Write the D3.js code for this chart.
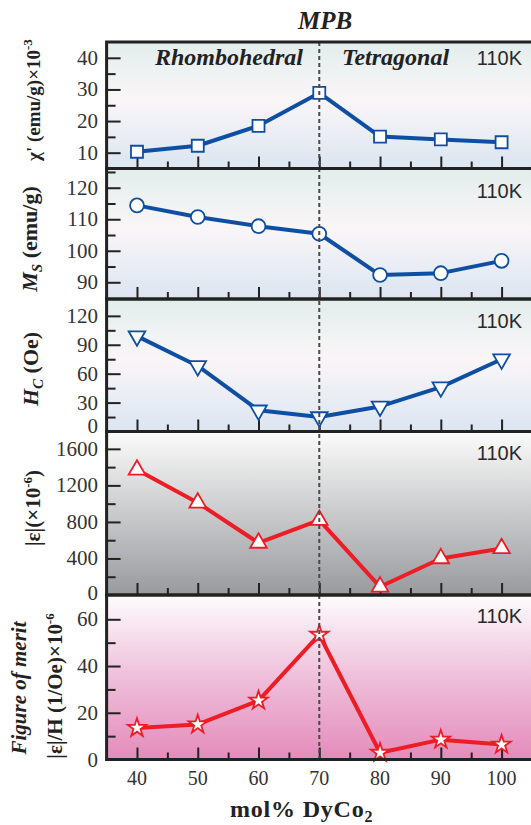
<!DOCTYPE html>
<html>
<head>
<meta charset="utf-8">
<script src="https://cdn.jsdelivr.net/npm/d3@7"></script>
<style>
  body { margin: 0; background: #fff; }
  svg { display: block; }
  text { font-family: "Liberation Serif", "Times New Roman", serif; fill: #333; }
</style>
</head>
<body>
<svg id="chart" width="531" height="825"></svg>
<script>
// composition (mol% DyCo2) and the five measured quantities at 110K
const molPct = [40, 50, 60, 70, 80, 90, 100];
const chiVals = [10.3, 12.2, 18.5, 28.9, 15.1, 14.2, 13.3];
const msVals = [114.4, 110.7, 107.8, 105.4, 92.3, 92.9, 96.8];
const hcVals = [99, 68, 22, 15, 26, 46, 75];
const strainVals = [1370, 1010, 570, 820, 90, 400, 510];
const fomVals = [13.5, 15, 25.2, 53.4, 2.9, 8.5, 6.4];

// tick labels
const xTicks = [40, 50, 60, 70, 80, 90, 100];
const xMinor = [45, 55, 65, 75, 85, 95];
const chiTicks = [10, 20, 30, 40], chiMinor = [15, 25, 35];
const msTicks = [90, 100, 110, 120], msMinor = [95, 105, 115, 125];
const hcTicks = [0, 30, 60, 90, 120], hcMinor = [15, 45, 75, 105];
const strainTicks = [0, 400, 800, 1200, 1600], strainMinor = [200, 600, 1000, 1400];
const fomTicks = [0, 20, 40, 60], fomMinor = [10, 30, 50];
const mpbPos = 70;

const svg = d3.select('#chart');
const blue = '#0f4fa3', red = '#ee1c25';
const left = 106.6, right = 535;

const x = d3.scaleLinear().domain([35, 105.5]).range([left, right]);

// gradients for the panel backgrounds
const defs = svg.append('defs');
const grads = {
  bgBlue: [[0, '#e2edeb'], [0.45, '#faf6f8'], [1, '#dce5f1']],
  bgGray: [[0, '#fbfbfb'], [1, '#999a9e']],
  bgPink: [[0, '#fefcfd'], [0.5, '#efbfda'], [1, '#e48bbb']],
};
Object.entries(grads).forEach(([id, stops]) => {
  const g = defs.append('linearGradient').attr('id', id)
    .attr('x1', 0).attr('y1', 0).attr('x2', 0).attr('y2', 1);
  stops.forEach(s => g.append('stop').attr('offset', s[0]).attr('stop-color', s[1]));
});

const panels = [
  { vals: chiVals, ticks: chiTicks, minor: chiMinor, dom: [5, 45], top: 42, bot: 168.5, color: blue, sym: 'square', bg: 'bgBlue', kY: 23, lift: 0 },
  { vals: msVals, ticks: msTicks, minor: msMinor, dom: [84.7, 126.1], top: 168.5, bot: 299, color: blue, sym: 'circle', bg: 'bgBlue', kY: 29, lift: 0 },
  { vals: hcVals, ticks: hcTicks, minor: hcMinor, dom: [0, 137.5], top: 299, bot: 431.5, color: blue, sym: 'down', bg: 'bgBlue', kY: 29, lift: 6 },
  { vals: strainVals, ticks: strainTicks, minor: strainMinor, dom: [0, 1790], top: 431.5, bot: 595, color: red, sym: 'up', bg: 'bgGray', kY: 28, lift: 2 },
  { vals: fomVals, ticks: fomTicks, minor: fomMinor, dom: [0, 70.4], top: 595, bot: 759.5, color: red, sym: 'star', bg: 'bgPink', kY: 28, lift: 0 },
];

const symbols = {
  square: d3.symbol(d3.symbolSquare, 144),
  circle: d3.symbol(d3.symbolCircle, 150),
  down: d3.symbol(d3.symbolTriangle, 120),
  up: d3.symbol(d3.symbolTriangle, 120),
  star: d3.symbol(d3.symbolStar, 105),
};

panels.forEach(p => {
  const y = d3.scaleLinear().domain(p.dom).range([p.bot, p.top]);
  const g = svg.append('g');

  g.append('rect')
    .attr('x', left).attr('y', p.top)
    .attr('width', right - left).attr('height', p.bot - p.top)
    .attr('fill', `url(#${p.bg})`);

  // inward ticks, left side
  const yMaj = g.append('g').attr('transform', `translate(${left},0)`)
    .call(d3.axisLeft(y).tickValues(p.ticks).tickSize(-14).tickFormat(''));
  const yMin = g.append('g').attr('transform', `translate(${left},0)`)
    .call(d3.axisLeft(y).tickValues(p.minor).tickSize(-9).tickFormat(''));
  // inward ticks, bottom
  const xMaj = g.append('g').attr('transform', `translate(0,${p.bot})`)
    .call(d3.axisBottom(x).tickValues(xTicks).tickSize(-12).tickFormat(''));
  const xMin = g.append('g').attr('transform', `translate(0,${p.bot})`)
    .call(d3.axisBottom(x).tickValues(xMinor).tickSize(-7).tickFormat(''));
  [yMaj, yMin, xMaj, xMin].forEach(a => {
    a.select('.domain').remove();
    a.selectAll('line').attr('stroke', '#222').attr('stroke-width', 2);
  });

  // tick labels (the zero label sits a little higher)
  g.selectAll('.ylab').data(p.ticks).join('text')
    .attr('x', 98).attr('y', d => y(d) + 7 - (d === p.dom[0] ? p.lift : 0))
    .attr('text-anchor', 'end').attr('font-size', 21)
    .text(d => d);

  // data line + markers
  const pts = molPct.map((m, i) => [x(m), y(p.vals[i])]);
  g.append('path')
    .attr('d', d3.line()(pts))
    .attr('fill', 'none').attr('stroke', p.color)
    .attr('stroke-width', 4).attr('stroke-linejoin', 'round');
  g.selectAll('.mk').data(pts).join('path')
    .attr('d', symbols[p.sym]())
    .attr('transform', d => `translate(${d[0]},${d[1]})` + (p.sym === 'down' ? ' rotate(180)' : ''))
    .attr('fill', '#fff').attr('stroke', p.color).attr('stroke-width', 1.8);

  g.append('text')
    .attr('x', 522).attr('y', p.top + p.kY)
    .attr('text-anchor', 'end')
    .attr('font-size', 20)
    .style('font-family', '"Liberation Sans", Arial, sans-serif')
    .style('fill', '#2a2a2a')
    .text('110K');
});

// MPB dashed line
svg.append('line')
  .attr('x1', x(mpbPos)).attr('x2', x(mpbPos))
  .attr('y1', 42).attr('y2', 759.5)
  .attr('stroke', '#4a4a4a').attr('stroke-width', 2)
  .attr('stroke-dasharray', '4,3');

// frames on top
panels.forEach(p => {
  svg.append('rect')
    .attr('x', left).attr('y', p.top)
    .attr('width', right - left).attr('height', p.bot - p.top)
    .attr('fill', 'none').attr('stroke', '#222').attr('stroke-width', 3);
});

// x tick labels
svg.selectAll('.xlab').data(xTicks).join('text')
  .attr('x', d => x(d)).attr('y', 785)
  .attr('text-anchor', 'middle').attr('font-size', 20)
  .text(d => d);

// x title
const xt = svg.append('text')
  .attr('x', 230).attr('y', 817)
  .attr('font-size', 24).attr('font-weight', 'bold')
  .attr('letter-spacing', 0.8)
  .style('fill', '#222');
xt.append('tspan').text('mol% DyCo');
xt.append('tspan').attr('dy', 5).attr('font-size', 16).text('2');

// header texts
const bi = (t, xx, yy, size, anchor) => svg.append('text')
  .attr('x', xx).attr('y', yy).attr('text-anchor', anchor)
  .attr('font-size', size).attr('font-weight', 'bold').attr('font-style', 'italic')
  .style('fill', '#222').text(t);
bi('MPB', 325, 29, 25, 'middle');
bi('Rhombohedral', 155, 65, 24, 'start');
bi('Tetragonal', 342, 65, 24, 'start');

// rotated y titles
const ylab = (xx, yy, size, parts) => {
  const t = svg.append('text')
    .attr('transform', `translate(${xx},${yy}) rotate(-90)`)
    .attr('text-anchor', 'middle').attr('font-size', size)
    .attr('font-weight', 'bold')
    .style('fill', '#222');
  parts.forEach(pt => {
    const s = t.append('tspan').text(pt.t);
    if (pt.i) s.attr('font-style', 'italic');
    if (pt.dy) s.attr('dy', pt.dy);
    if (pt.fs) s.attr('font-size', pt.fs);
  });
};
ylab(40, 100, 19, [{ t: 'χ\'' }, { t: ' (emu/g)×10' }, { t: '-3', dy: -8, fs: 13 }]);
ylab(37, 239, 22, [{ t: 'M', i: 1 }, { t: 'S', i: 1, dy: 5, fs: 15 }, { t: ' (emu/g)', dy: -5 }]);
ylab(38, 369, 22, [{ t: 'H', i: 1 }, { t: 'C', i: 1, dy: 5, fs: 15 }, { t: ' (Oe)', dy: -5 }]);
ylab(40, 508, 21, [{ t: '|ε|' }, { t: '(×10' }, { t: '-6', dy: -8, fs: 13 }, { t: ')', dy: 8 }]);
ylab(26, 688, 21, [{ t: 'Figure of merit', i: 1 }]);
ylab(62, 686, 21, [{ t: '|ε|' }, { t: '/H (1/Oe)×10' }, { t: '-6', dy: -8, fs: 13 }]);
</script>
</body>
</html>
